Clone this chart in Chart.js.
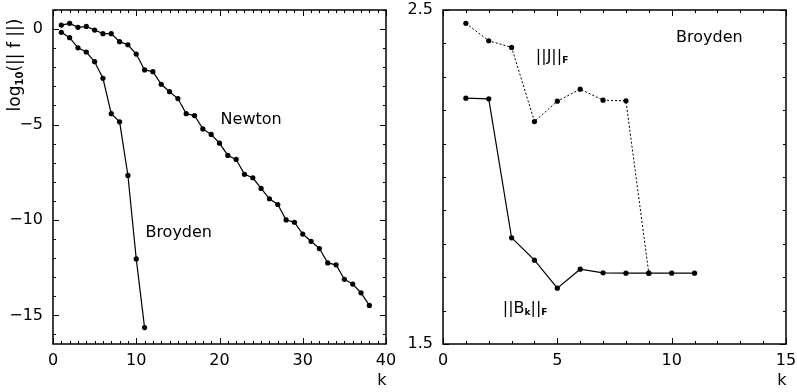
<!DOCTYPE html>
<html>
<head>
<meta charset="utf-8">
<script src="https://cdn.jsdelivr.net/npm/chart.js@4/dist/chart.umd.min.js"></script>
<style>
  body { margin: 0; background: #fff; }
  canvas { position: absolute; top: 0; }
  #left-chart { left: 0; }
  #right-chart { left: 400px; }
</style>
</head>
<body>
<canvas id="left-chart" width="400" height="392"></canvas>
<canvas id="right-chart" width="397" height="392"></canvas>
<script>
// left panel: log10 of residual norm vs iteration k
const newtonK = [1, 2, 3, 4, 5, 6, 7, 8, 9, 10, 11, 12, 13, 14, 15, 16, 17, 18, 19,
  20, 21, 22, 23, 24, 25, 26, 27, 28, 29, 30, 31, 32, 33, 34, 35, 36, 37, 38];
const newtonLog = [0.21, 0.30, 0.09, 0.14, -0.05, -0.24, -0.24, -0.66, -0.82, -1.31,
  -2.14, -2.23, -2.89, -3.28, -3.64, -4.43, -4.53, -5.23, -5.52, -5.98,
  -6.62, -6.83, -7.61, -7.79, -8.35, -8.89, -9.19, -10.0, -10.12, -10.74,
  -11.12, -11.5, -12.25, -12.35, -13.11, -13.36, -13.82, -14.48];
const broydenK = [1, 2, 3, 4, 5, 6, 7, 8, 9, 10, 11];
const broydenLog = [-0.17, -0.45, -0.98, -1.2, -1.71, -2.58, -4.43, -4.86, -7.67, -12.04, -15.64];

// right panel: Frobenius norms
const jK = [1, 2, 3, 4, 5, 6, 7, 8, 9];
const jNorm = [2.46, 2.408, 2.388, 2.166, 2.227, 2.263, 2.23, 2.228, 1.712];
const bK = [1, 2, 3, 4, 5, 6, 7, 8, 9, 10, 11];
const bNorm = [2.236, 2.234, 1.818, 1.751, 1.667, 1.724, 1.713, 1.712, 1.712, 1.712, 1.712];

// tick labels
const leftXTicks = [0, 10, 20, 30, 40];
const leftYTicks = [0, -5, -10, -15];
const rightXTicks = [0, 5, 10, 15];
const rightYTicks = [2.5, 1.5];

const FONT = "'DejaVu Sans', Verdana, sans-serif";

function toPoints(xs, ys) {
  return xs.map((x, i) => ({ x: x, y: ys[i] }));
}

function fmt(v) {
  return v < 0 ? "\u2212" + Math.abs(v) : String(v);
}

// text with a subscript, drawn left to right from x
function drawParts(ctx, parts, x, y, align) {
  let total = 0;
  parts.forEach((p) => {
    ctx.font = p.font;
    total += ctx.measureText(p.text).width;
  });
  let cx = align === "center" ? x - total / 2 : x;
  ctx.textAlign = "left";
  parts.forEach((p) => {
    ctx.font = p.font;
    ctx.fillText(p.text, cx, y + (p.dy || 0));
    cx += ctx.measureText(p.text).width;
  });
}

const framePlugin = {
  id: "frame",
  afterDraw(chart, args, opts) {
    const ctx = chart.ctx;
    const area = chart.chartArea;
    const xs = chart.scales.x;
    const ys = chart.scales.y;
    ctx.save();
    ctx.strokeStyle = "#000";
    ctx.fillStyle = "#000";
    ctx.lineWidth = 1.5;
    ctx.strokeRect(area.left, area.top, area.right - area.left, area.bottom - area.top);

    ctx.lineWidth = 1;
    ctx.beginPath();
    const nx = Math.round((opts.xMax - opts.xMin) / opts.xStep);
    for (let i = 0; i <= nx; i++) {
      const v = opts.xMin + i * opts.xStep;
      const px = Math.round(xs.getPixelForValue(v)) + 0.5;
      const len = opts.xTicks.includes(v) ? 6 : 3;
      ctx.moveTo(px, area.bottom);
      ctx.lineTo(px, area.bottom - len);
      ctx.moveTo(px, area.top);
      ctx.lineTo(px, area.top + len);
    }
    const ny = Math.round((opts.yMax - opts.yMin) / opts.yStep);
    for (let i = 0; i <= ny; i++) {
      const v = +(opts.yMin + i * opts.yStep).toFixed(4);
      const py = Math.round(ys.getPixelForValue(v)) + 0.5;
      const len = opts.yTicks.includes(v) ? 6 : 3;
      ctx.moveTo(area.left, py);
      ctx.lineTo(area.left + len, py);
      ctx.moveTo(area.right, py);
      ctx.lineTo(area.right - len, py);
    }
    ctx.stroke();

    ctx.font = "16px " + FONT;
    ctx.textBaseline = "middle";
    ctx.textAlign = "center";
    opts.xTicks.forEach((v) => {
      ctx.fillText(fmt(v), xs.getPixelForValue(v), area.bottom + 17);
    });
    ctx.textAlign = "right";
    opts.yTicks.forEach((v) => {
      ctx.fillText(opts.yFmt(v), area.left - 10, ys.getPixelForValue(v));
    });
    ctx.textAlign = "center";
    ctx.fillText("k", area.right - 4, area.bottom + 37);

    opts.labels.forEach((l) => {
      drawParts(ctx, l.parts, xs.getPixelForValue(l.x), ys.getPixelForValue(l.y), "center");
    });
    if (opts.after) opts.after(ctx, area);
    ctx.restore();
  },
};

function baseOptions(xMin, xMax, yMin, yMax, padding, frame) {
  return {
    responsive: false,
    animation: false,
    layout: { padding: padding },
    scales: {
      x: { type: "linear", min: xMin, max: xMax, display: false },
      y: { type: "linear", min: yMin, max: yMax, display: false },
    },
    plugins: {
      legend: { display: false },
      tooltip: { enabled: false },
      frame: frame,
    },
  };
}

function lineSet(data, dash) {
  return {
    data: data,
    borderColor: "#000",
    backgroundColor: "#000",
    borderWidth: dash ? 1 : 1.2,
    borderDash: dash || [],
    pointRadius: 2.6,
    pointBorderWidth: 0,
    tension: 0,
  };
}

const big = "16px " + FONT;
const small = "bold 9px " + FONT;

new Chart(document.getElementById("left-chart"), {
  type: "line",
  data: {
    datasets: [
      lineSet(toPoints(newtonK, newtonLog)),
      lineSet(toPoints(broydenK, broydenLog)),
    ],
  },
  options: baseOptions(0, 40, -16.5, 1, { left: 53, right: 14, top: 10, bottom: 48 }, {
    xMin: 0, xMax: 40, xStep: 1, xTicks: leftXTicks,
    yMin: -16, yMax: 1, yStep: 1, yTicks: leftYTicks,
    yFmt: fmt,
    labels: [
      { x: 23.8, y: -4.76, parts: [{ text: "Newton", font: big }] },
      { x: 15.1, y: -10.7, parts: [{ text: "Broyden", font: big }] },
    ],
    after(ctx, area) {
      ctx.save();
      ctx.translate(16, 65);
      ctx.rotate(-Math.PI / 2);
      drawParts(ctx, [
        { text: "log", font: "17px " + FONT },
        { text: "10", font: "bold 10px " + FONT, dy: 4 },
        { text: "(|| f ||)", font: "17px " + FONT },
      ], 0, 0, "center");
      ctx.restore();
    },
  }),
  plugins: [framePlugin],
});

new Chart(document.getElementById("right-chart"), {
  type: "line",
  data: {
    datasets: [
      lineSet(toPoints(jK, jNorm), [2, 2]),
      lineSet(toPoints(bK, bNorm)),
    ],
  },
  options: baseOptions(0, 15, 1.5, 2.5, { left: 43, right: 11, top: 10, bottom: 48 }, {
    xMin: 0, xMax: 15, xStep: 1, xTicks: rightXTicks,
    yMin: 1.5, yMax: 2.5, yStep: 0.1, yTicks: rightYTicks,
    yFmt: (v) => v.toFixed(1),
    labels: [
      { x: 11.65, y: 2.416, parts: [{ text: "Broyden", font: big }] },
      { x: 4.77, y: 2.359, parts: [
        { text: "||J||", font: big },
        { text: "F", font: small, dy: 4 },
      ] },
      { x: 3.59, y: 1.605, parts: [
        { text: "||B", font: big },
        { text: "k", font: small, dy: 4 },
        { text: "||", font: big },
        { text: "F", font: small, dy: 4 },
      ] },
    ],
  }),
  plugins: [framePlugin],
});
</script>
</body>
</html>
